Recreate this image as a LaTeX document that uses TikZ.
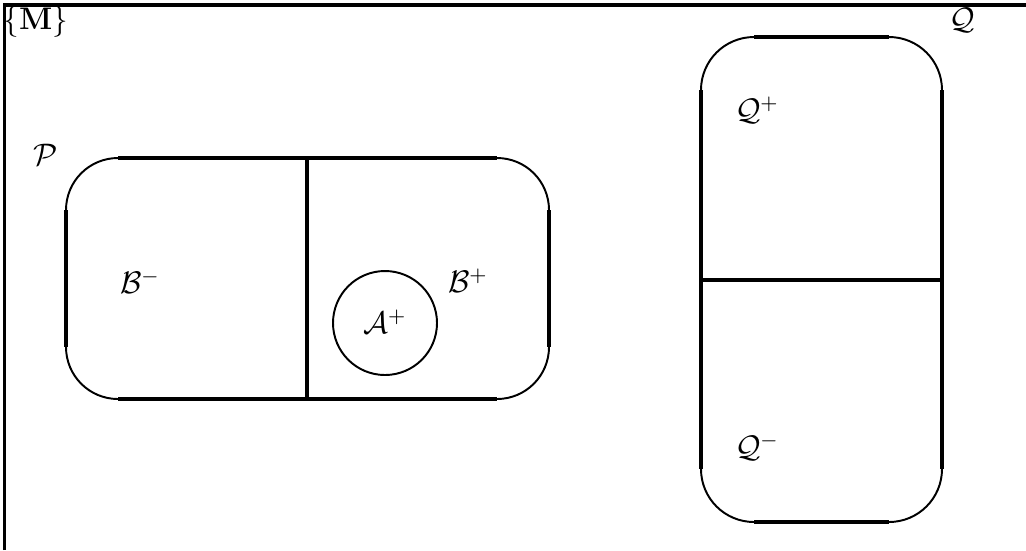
\documentclass[tikz,border=0pt]{standalone}
\usepackage{amsmath}
\tikzset{
  edgeline/.style={line width=1.4pt},
  cornerarc/.style={line width=0.75pt},
  lbl/.style={inner sep=0pt,font=\large},
}
\begin{document}
\begin{tikzpicture}[x=0.385pt,y=-0.385pt]
\useasboundingbox (0,0) rectangle (1026,550);
% frame (top and left)
\draw[edgeline] (4.5,550) -- (4.5,5) -- (1026,5);
\node[lbl,anchor=north west] (M) at (3,6) {$\{\mathbf{M}\}$};
% P box
\draw[edgeline] (118,158) -- (497,158);
\draw[edgeline] (118,399) -- (497,399);
\draw[edgeline] (66,210) -- (66,347);
\draw[edgeline] (549,210) -- (549,347);
\draw[cornerarc] (66,210) arc[start angle=180,end angle=270,radius=52];
\draw[cornerarc] (497,158) arc[start angle=270,end angle=360,radius=52];
\draw[cornerarc] (549,347) arc[start angle=0,end angle=90,radius=52];
\draw[cornerarc] (118,399) arc[start angle=90,end angle=180,radius=52];
\draw[edgeline] (307,158) -- (307,399);
\node[lbl] (P) at (46,155) {$\mathcal{P}$};
\node[lbl] (Bm) at (140,282) {$\mathcal{B}^{-}$};
\node[lbl] (Bp) at (468,281) {$\mathcal{B}^{+}$};
\node[draw,circle,line width=0.75pt,minimum size=104*0.385pt,inner sep=0pt] (Acirc) at (385,323) {};
\node[lbl] (Ap) at (385,322) {$\mathcal{A}^{+}$};
% Q box
\draw[edgeline] (754,37) -- (889,37);
\draw[edgeline] (754,522) -- (889,522);
\draw[edgeline] (701,90) -- (701,469);
\draw[edgeline] (942,90) -- (942,469);
\draw[cornerarc] (701,90) arc[start angle=180,end angle=270,radius=53];
\draw[cornerarc] (889,37) arc[start angle=270,end angle=360,radius=53];
\draw[cornerarc] (942,469) arc[start angle=0,end angle=90,radius=53];
\draw[cornerarc] (754,522) arc[start angle=90,end angle=180,radius=53];
\draw[edgeline] (701,280) -- (942,280);
\node[lbl] (Q) at (962,20) {$\mathcal{Q}$};
\node[lbl] (Qp) at (757,110) {$\mathcal{Q}^{+}$};
\node[lbl] (Qm) at (757,447) {$\mathcal{Q}^{-}$};
\end{tikzpicture}
\end{document}
